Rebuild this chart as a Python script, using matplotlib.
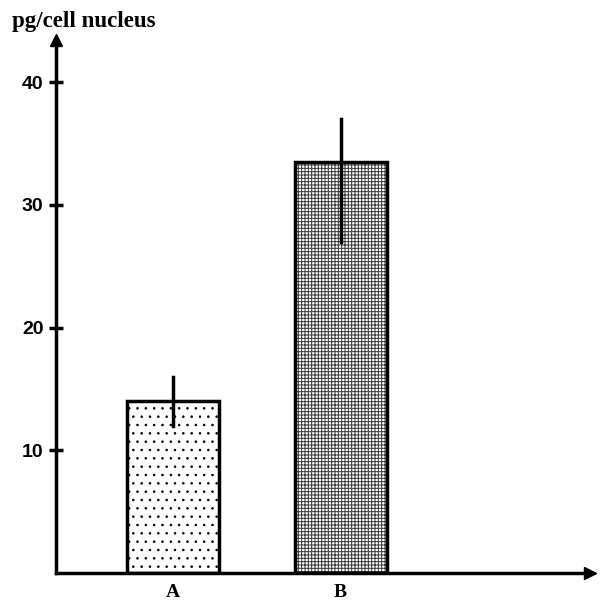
import matplotlib
matplotlib.use("Agg")
import matplotlib.pyplot as plt

categories = ["A", "B"]
values = [14.0, 33.5]
err_low = [12.0, 27.0]
err_high = [16.0, 37.0]
yticks = [10, 20, 30, 40]
ylabel = "pg/cell nucleus"

W = 601
fig = plt.figure(figsize=(W/100, W/100), dpi=100)
x0, x1 = 56, 590
y0, y1 = 573, 40
ax = fig.add_axes([x0/W, (W-y0)/W, (x1-x0)/W, (y0-y1)/W])
ax.set_xlim(-0.70, 2.49)
ax.set_ylim(0, (y0-y1)/12.27)

xs = list(range(len(categories)))
hatches = ['..', '+++++']
hatch_colors = ['black', '#3a3a3a']
hatch_lw = [0.6, 0.7]
for x, v, lo, hi, h, hc, hl in zip(xs, values, err_low, err_high, hatches, hatch_colors, hatch_lw):
    plt.rcParams['hatch.linewidth'] = hl
    ax.bar(x, v, width=0.55, facecolor='white', edgecolor=hc, linewidth=0, hatch=h, zorder=2)
    ax.bar(x, v, width=0.55, facecolor='none', edgecolor='black', linewidth=2.5, zorder=2.5)
    ax.plot([x, x], [lo, hi], color='black', linewidth=2.5, zorder=3)

for s in ['top', 'right']:
    ax.spines[s].set_visible(False)
ax.spines['left'].set_linewidth(2.5)
ax.spines['bottom'].set_linewidth(2.5)
ax.plot(1, 0, '>', color='black', markersize=8, transform=ax.transAxes, clip_on=False)
ax.plot(0, 1, '^', color='black', markersize=8, transform=ax.transAxes, clip_on=False)

ax.set_yticks(yticks)
ax.set_yticklabels([str(t) for t in yticks], fontfamily='Liberation Sans', fontweight='bold', fontsize=14)
ax.tick_params(axis='y', direction='inout', length=10, width=2.5, pad=4)
ax.set_xticks(xs)
ax.set_xticklabels(categories, fontfamily='Liberation Serif', fontweight='bold', fontsize=14)
ax.tick_params(axis='x', length=0, pad=8)

fig.text(12/W, 1-22/W, ylabel, fontfamily='Liberation Serif', fontweight='bold', fontsize=16.5, va='center', ha='left')

fig.savefig("out.png", dpi=100)
